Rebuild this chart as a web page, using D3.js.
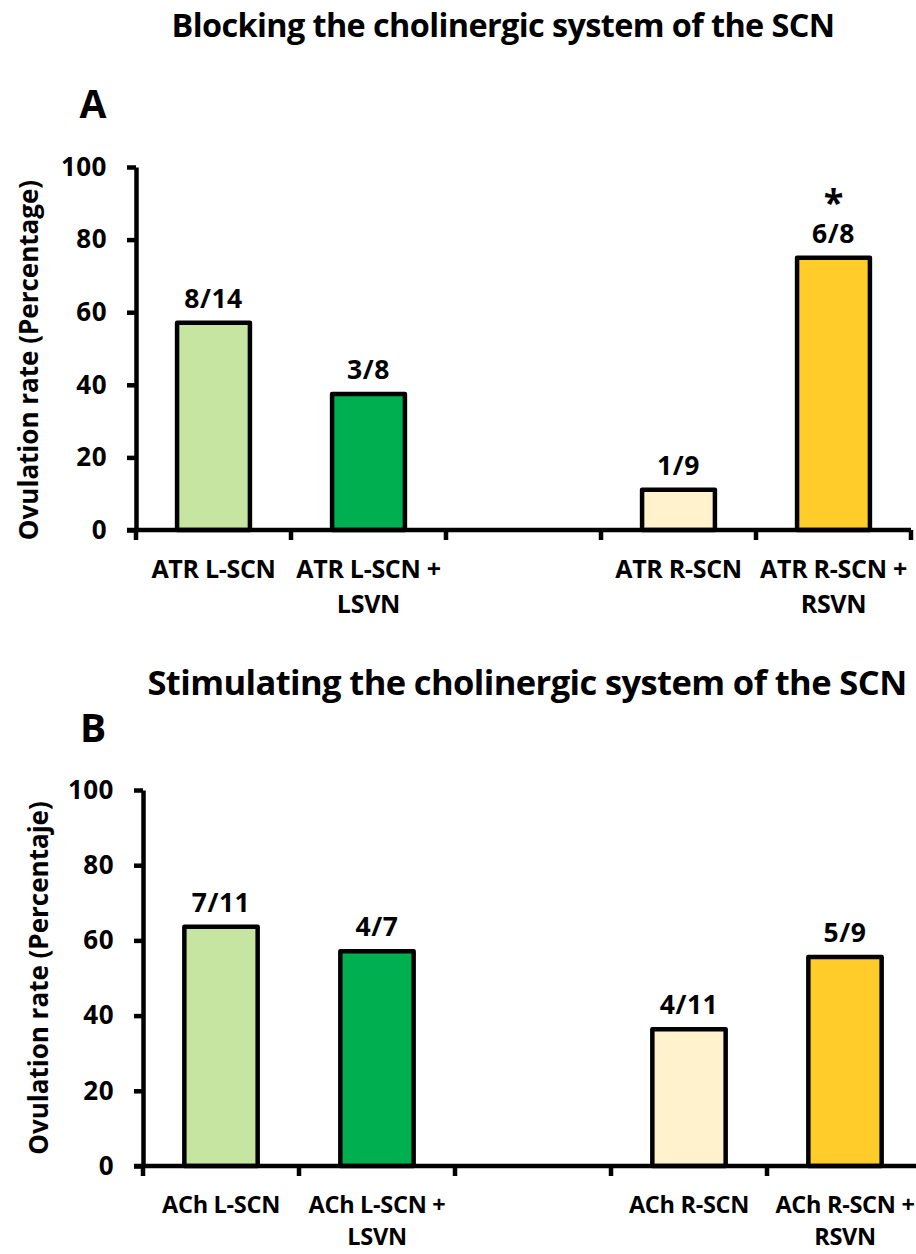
<!DOCTYPE html>
<html>
<head>
<meta charset="utf-8">
<script src="https://cdn.jsdelivr.net/npm/d3@7"></script>
<style>
  body { margin: 0; background: #fff; }
  svg { display: block; font-family: "Open Sans", Lato, sans-serif; font-weight: bold; }
</style>
</head>
<body>
<div id="chart"></div>
<script>
// panel A: atropine (blocking)
const labelsA = [["ATR L-SCN"], ["ATR L-SCN +", "LSVN"], [], ["ATR R-SCN"], ["ATR R-SCN +", "RSVN"]];
const valuesA = [57.1, 37.5, null, 11.1, 75.0];
const fractionsA = ["8/14", "3/8", "", "1/9", "6/8"];
const marksA = ["", "", "", "", "*"];

// panel B: acetylcholine (stimulating)
const labelsB = [["ACh L-SCN"], ["ACh L-SCN +", "LSVN"], [], ["ACh R-SCN"], ["ACh R-SCN +", "RSVN"]];
const valuesB = [63.6, 57.1, null, 36.4, 55.6];
const fractionsB = ["7/11", "4/7", "", "4/11", "5/9"];
const marksB = ["", "", "", "", ""];

const barColors = ["#C5E5A0", "#00B050", "none", "#FFF2CC", "#FFCC29"];
const yTicks = [0, 20, 40, 60, 80, 100];

const width = 916, height = 1254;

const svg = d3.select("#chart").append("svg")
    .attr("width", width)
    .attr("height", height);

function panel(opts) {
    const keys = opts.labels.map((d, i) => "c" + i);
    const step = opts.step;
    const x = d3.scaleBand()
        .domain(keys)
        .range([opts.x0, opts.x0 + step * keys.length])
        .paddingInner(0.53)
        .paddingOuter(0.265);
    const y = d3.scaleLinear()
        .domain([0, 100])
        .range([opts.yBottom, opts.yTop]);

    const g = svg.append("g");

    // titles
    g.append("text")
        .attr("x", opts.titleX)
        .attr("y", opts.titleY)
        .attr("text-anchor", "middle")
        .attr("font-size", opts.titleSize)
        .attr("letter-spacing", -0.6)
        .text(opts.title);
    g.append("text")
        .attr("x", 93)
        .attr("y", opts.letterY)
        .attr("text-anchor", "middle")
        .attr("font-size", 39)
        .text(opts.letter);

    // bars
    const data = keys.map((k, i) => ({
        key: k, value: opts.values[i], color: barColors[i],
        frac: opts.fractions[i], mark: opts.marks[i], lines: opts.labels[i]
    }));
    const withVal = data.filter(d => d.value != null);

    g.append("g")
        .selectAll("rect")
        .data(withVal)
        .join("rect")
        .attr("x", d => x(d.key))
        .attr("width", x.bandwidth())
        .attr("y", d => y(d.value))
        .attr("height", d => y(0) - y(d.value))
        .attr("fill", d => d.color)
        .attr("stroke", "#000")
        .attr("stroke-width", 4.5)
        .attr("stroke-linejoin", "round");

    g.append("g")
        .selectAll("text")
        .data(withVal)
        .join("text")
        .attr("x", d => x(d.key) + x.bandwidth() / 2)
        .attr("y", d => y(d.value) - 15)
        .attr("text-anchor", "middle")
        .attr("font-size", 26.5)
        .attr("letter-spacing", 0.5)
        .text(d => d.frac);

    g.append("g")
        .selectAll("text")
        .data(withVal.filter(d => d.mark))
        .join("text")
        .attr("x", d => x(d.key) + x.bandwidth() / 2)
        .attr("y", d => y(d.value) - 43)
        .attr("text-anchor", "middle")
        .attr("font-size", 36)
        .text(d => d.mark);

    // x axis: baseline with ticks on category boundaries
    const xEnd = opts.x0 + step * keys.length;
    const ax = g.append("g").attr("stroke", "#000").attr("stroke-width", 4.5);
    ax.append("line")
        .attr("x1", opts.x0 - 9).attr("x2", xEnd)
        .attr("y1", y(0)).attr("y2", y(0));
    ax.selectAll(".tk")
        .data(d3.range(keys.length + 1))
        .join("line")
        .attr("class", "tk")
        .attr("x1", i => opts.x0 + i * step).attr("x2", i => opts.x0 + i * step)
        .attr("y1", y(0)).attr("y2", y(0) + 10);

    g.append("g")
        .selectAll("text")
        .data(data)
        .join("text")
        .attr("x", d => x(d.key) + x.bandwidth() / 2)
        .attr("y", y(0) + opts.catY)
        .attr("text-anchor", "middle")
        .attr("font-size", opts.catSize)
        .attr("letter-spacing", -0.3)
        .selectAll("tspan")
        .data(d => d.lines)
        .join("tspan")
        .attr("x", function() { return this.parentNode.getAttribute("x"); })
        .attr("dy", (d, i) => i === 0 ? 0 : opts.catGap)
        .text(d => d);

    // y axis
    const yAxis = g.append("g")
        .attr("transform", `translate(${opts.x0},0)`)
        .call(d3.axisLeft(y).tickValues(yTicks).tickSize(9).tickSizeOuter(0).tickPadding(20));
    yAxis.select(".domain").attr("stroke-width", 4.5);
    yAxis.selectAll(".tick line").attr("stroke-width", 4.5);
    yAxis.selectAll(".tick text")
        .attr("font-size", 26)
        .attr("letter-spacing", 0.5)
        .attr("font-family", "'Open Sans', sans-serif")
        .attr("font-weight", "bold")
        .attr("fill", "#000");

    g.append("text")
        .attr("transform", `translate(${opts.yTitleX},${opts.yTitleY}) rotate(-90)`)
        .attr("text-anchor", "middle")
        .attr("font-size", 26)
        .text(opts.yTitle);
}

panel({
    labels: labelsA, values: valuesA, fractions: fractionsA, marks: marksA,
    title: "Blocking the cholinergic system of the SCN", titleX: 503, titleY: 37, titleSize: 32.4,
    letter: "A", letterY: 118,
    x0: 136, step: 155, yBottom: 530, yTop: 167,
    catY: 48, catSize: 25, catGap: 35,
    yTitle: "Ovulation rate (Percentage)", yTitleX: 38, yTitleY: 360
});

panel({
    labels: labelsB, values: valuesB, fractions: fractionsB, marks: marksB,
    title: "Stimulating the cholinergic system of the SCN", titleX: 527, titleY: 695, titleSize: 34.5,
    letter: "B", letterY: 742,
    x0: 143, step: 156, yBottom: 1166, yTop: 790,
    catY: 47, catSize: 23.5, catGap: 32,
    yTitle: "Ovulation rate (Percentaje)", yTitleX: 48, yTitleY: 978
});
</script>
</body>
</html>
